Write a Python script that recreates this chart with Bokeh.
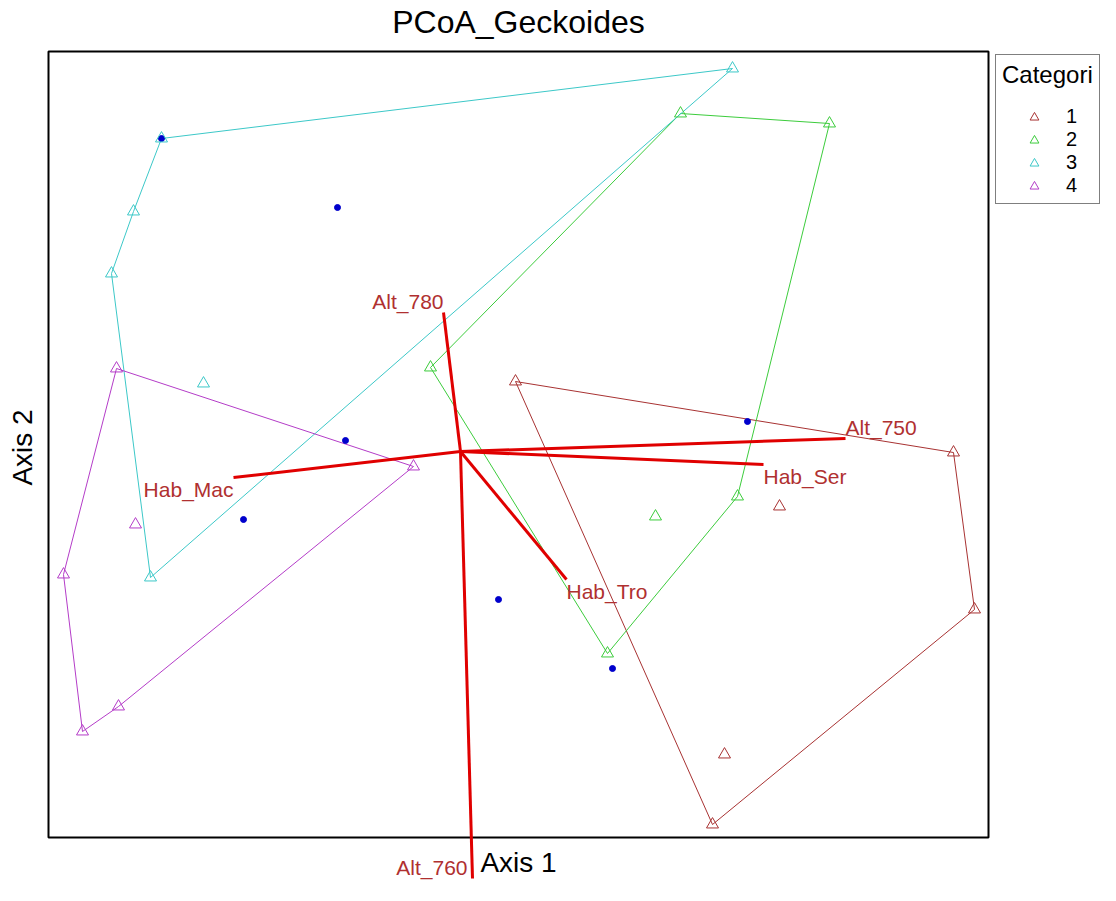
import numpy as np
from bokeh.plotting import figure
from bokeh.models import (ColumnDataSource, Legend, LegendItem, Label, Range1d)
from bokeh.embed import file_html
from bokeh.resources import INLINE

# ---------------- data ----------------
title = "PCoA_Geckoides"
x_label = "Axis 1"
y_label = "Axis 2"
legend_title = "Categori"

categories = ["1", "2", "3", "4"]
cat_colors = ["#a83232", "#3ccc3c", "#3cc8c8", "#b43cc8"]

cat1_x = [0.55, 4.93, 5.14, 2.52, 2.64, 3.19]
cat1_y = [0.70, -0.01, -1.58, -3.73, -3.03, -0.55]

cat2_x = [-0.30, 2.20, 3.69, 2.77, 1.47, 1.95]
cat2_y = [0.84, 3.38, 3.28, -0.45, -2.02, -0.65]

cat3_x = [2.72, -2.99, -3.27, -3.49, -3.10, -2.57]
cat3_y = [3.83, 3.13, 2.40, 1.78, -1.26, 0.68]

cat4_x = [-3.44, -0.47, -3.42, -3.78, -3.97, -3.25]
cat4_y = [0.83, -0.15, -2.55, -2.80, -1.23, -0.73]

site_x = [-2.99, -1.23, -1.15, -2.17, 0.38, 1.52, 2.87]
site_y = [3.13, 2.44, 0.11, -0.68, -1.48, -2.17, 0.30]

vec_names = ["Alt_780", "Alt_750", "Hab_Ser", "Hab_Mac", "Hab_Tro", "Alt_760"]
vec_x = [-0.17, 3.85, 3.03, -2.27, 1.06, 0.12]
vec_y = [1.39, 0.13, -0.13, -0.26, -1.28, -4.27]

# plotting window limits of the ordination (the black box)
box_x = [-4.12, 5.28]
box_y = [-3.86, 4.00]

cat_x = [cat1_x, cat2_x, cat3_x, cat4_x]
cat_y = [cat1_y, cat2_y, cat3_y, cat4_y]

FONT = "Liberation Sans"
W, H = 1100, 885


def convex_hull(xs, ys):
    pts = sorted(set(zip(xs, ys)))

    def cross(o, a, b):
        return (a[0] - o[0]) * (b[1] - o[1]) - (a[1] - o[1]) * (b[0] - o[0])

    lower = []
    for q in pts:
        while len(lower) >= 2 and cross(lower[-2], lower[-1], q) <= 0:
            lower.pop()
        lower.append(q)
    upper = []
    for q in reversed(pts):
        while len(upper) >= 2 and cross(upper[-2], upper[-1], q) <= 0:
            upper.pop()
        upper.append(q)
    h = lower[:-1] + upper[:-1]
    return [q[0] for q in h], [q[1] for q in h]


# the frame covers the whole canvas so that the long vector and its label
# may run below the box, as in the reference
p = figure(width=W, height=H,
           x_range=Range1d(-4.60, 6.40), y_range=Range1d(-4.34, 4.51),
           output_backend="svg", toolbar_location=None,
           min_border=0)
p.axis.visible = False
p.grid.visible = False
p.outline_line_color = None
p.background_fill_color = "white"
p.border_fill_color = "white"

# box
p.quad(left=[box_x[0]], right=[box_x[1]], bottom=[box_y[0]], top=[box_y[1]],
       fill_color=None, line_color="black", line_width=2)

# hulls
hx, hy = [], []
for xs, ys in zip(cat_x, cat_y):
    a, b = convex_hull(xs, ys)
    hx.append(a)
    hy.append(b)
p.patches(xs=hx, ys=hy, fill_color=None, line_color=cat_colors, line_width=1)

# site points
p.scatter(site_x, site_y, marker="circle", size=6, fill_color="#0000cc",
          line_color="#0000cc")

# vectors
p.segment(x0=[0.0] * len(vec_x), y0=[0.0] * len(vec_y), x1=vec_x, y1=vec_y,
          line_color="#e00000", line_width=3)

# label placement follows the vector direction; a vector that leaves the
# box at the bottom gets its label beside its tip so it stays on the canvas
below = [v < box_y[0] for v in vec_y]
aligns = ["right" if b else ("left" if vx >= 0 else "right")
          for vx, b in zip(vec_x, below)]
bases = ["bottom" if (b or vy >= 0) else "top"
         for vy, b in zip(vec_y, below)]
xoffs = [-5 if b else 0 for b in below]
vsrc = ColumnDataSource(dict(x=vec_x, y=vec_y, t=vec_names,
                             al=aligns, bl=bases, xo=xoffs))
p.text(x="x", y="y", text="t", text_align="al", text_baseline="bl",
       x_offset="xo", source=vsrc, text_font_size="21px",
       text_color="#b03030", text_font={"value": FONT})

# triangles per category
items = []
for cat, col, xs, ys in zip(categories, cat_colors, cat_x, cat_y):
    r = p.scatter(xs, ys, marker="triangle", size=12, fill_color=None,
                  line_color=col, line_width=1)
    items.append(LegendItem(label=cat, renderers=[r]))

# title and axis titles
cx = (box_x[0] + box_x[1]) / 2
p.add_layout(Label(x=cx, y=box_y[1], y_offset=30, text=title,
                   text_align="center", text_baseline="alphabetic",
                   text_font=FONT, text_font_size="32px", text_color="black"))
p.add_layout(Label(x=cx, y=box_y[0], y_offset=-25, text=x_label,
                   text_align="center", text_baseline="alphabetic",
                   text_font=FONT, text_font_size="28px", text_color="black"))
p.add_layout(Label(x=box_x[0], y=(box_y[0] + box_y[1]) / 2, x_offset=-26,
                   y_offset=-3, angle=np.pi / 2, text=y_label,
                   text_align="center", text_baseline="alphabetic",
                   text_font=FONT, text_font_size="28px", text_color="black"))

legend = Legend(items=items, title=legend_title, location=(995, 681),
                margin=0, padding=6, spacing=0,
                glyph_width=64, glyph_height=22, label_height=22,
                label_standoff=0,
                border_line_color="black", border_line_width=1,
                background_fill_color="white", background_fill_alpha=1,
                title_text_font=FONT, title_text_font_size="24px",
                title_text_font_style="normal", title_text_color="black",
                title_standoff=16,
                label_text_font=FONT, label_text_font_size="20px",
                label_text_color="black")
p.add_layout(legend)

open("out.html", "w").write(file_html(p, INLINE))
